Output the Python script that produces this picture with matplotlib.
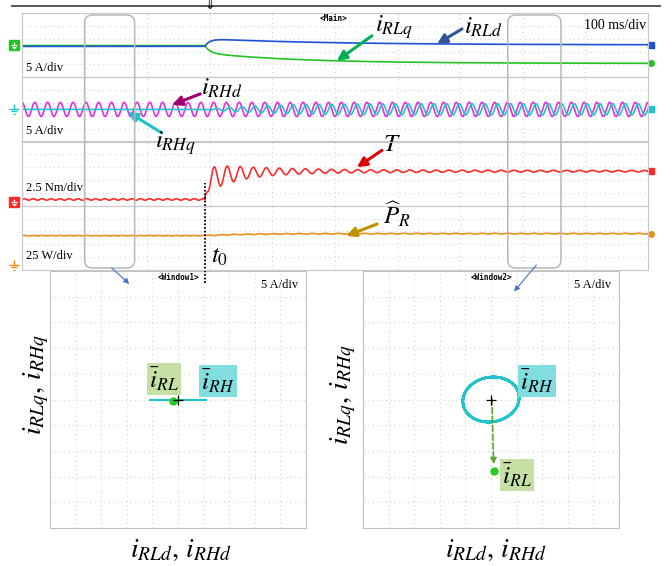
import numpy as np
import matplotlib
matplotlib.use('Agg')
import matplotlib.pyplot as plt
from matplotlib.patches import FancyBboxPatch, ConnectionPatch
from matplotlib.lines import Line2D
from matplotlib.path import Path
from matplotlib.transforms import IdentityTransform

plt.rcParams['mathtext.fontset'] = 'stix'
plt.rcParams['font.family'] = ['Liberation Serif', 'DejaVu Serif']

# scope settings
t_span = 1000.0          # ms (10 div x 100 ms/div)
t0 = 292.0               # ms, load step
t_trig = 300.0
win1 = (100.0, 180.0)    # zoom windows (ms)
win2 = (776.0, 861.0)

ch_scale = [5.0, 5.0, 2.5, 25.0]         # units/div
ch_ground = [0.0, 0.0, -4.42, -4.22]     # ground level, div from strip centre
ch_labels = ['5 A/div', '5 A/div', '2.5 Nm/div', '25 W/div']
ch_label_y = [0.14, 0.16, 0.28, 0.22]

# low-frequency rotor current (A)
irld_before, irld_peak, irld_final = -1.0, 5.0, 0.2
irlq_before, irlq_step, irlq_final = -0.3, -6.1, -14.2
irl_tau_fast, irld_tau_slow, irlq_tau_slow = 8.0, 200.0, 150.0

# high-frequency rotor current (A)
f_rh = 0.049             # cycles/ms
irhd_amp = 5.5
irhq_amp = 4.4
irhq_phase = 5.0         # deg
irhq_tau = 90.0

# torque (Nm)
T_before, T_final = 1.0, 12.0
T_dip, T_dip_tau = 3.5, 40.0
T_osc, T_osc_tau = 4.5, 60.0
T_osc_slow, T_osc_slow_tau = 0.8, 250.0
T_ripple, T_ripple_before = 0.25, 0.3
T_rise, T_peak_time = 4.0, 15.0
f_T, f_T_before = 0.048, 0.07

# estimated power (W)
P_before, P_final = 114.0, 122.0
P_tau, P_ripple = 60.0, 1.5

# ---------------- signals ----------------
t = np.arange(0, t_span + 0.05, 0.1)
dt = np.clip(t - t0, 0, None)
after = t >= t0

rise_f = 1 - np.exp(-dt / irl_tau_fast)
irld = irld_before + (irld_final - irld_before
                      + (irld_peak - irld_final) * np.exp(-dt / irld_tau_slow)) * rise_f
irlq = irlq_before + (irlq_step - irlq_before) * rise_f \
    + (irlq_final - irlq_step) * (1 - np.exp(-dt / irlq_tau_slow))

w = 2 * np.pi * f_rh
irhd = irhd_amp * np.cos(w * t)
irhq = irhq_amp * (1 - np.exp(-dt / irhq_tau)) * np.sin(w * t + np.radians(irhq_phase))

rise = 1 - np.exp(-dt / T_rise)
env = T_osc * np.exp(-dt / T_osc_tau) + T_osc_slow * np.exp(-dt / T_osc_slow_tau) + T_ripple
T_after = T_before + (T_final - T_before - T_dip * np.exp(-dt / T_dip_tau)) * rise \
    + env * np.cos(2 * np.pi * f_T * (dt - T_peak_time)) * rise ** 2
T_pre = T_before + T_ripple_before * np.sin(2 * np.pi * f_T_before * t)
torque = np.where(after, T_after, T_pre)

P_after = P_before + (P_final - P_before) * (1 - np.exp(-dt / P_tau)) \
    + P_ripple * np.sin(2 * np.pi * f_T * dt)
P_pre = P_before + 0.7 * P_ripple * np.sin(2 * np.pi * f_T_before * t)
power = np.where(after, P_after, P_pre)

# ---------------- layout ----------------
W, H = 672, 566
fig = plt.figure(figsize=(W / 100, H / 100), dpi=100)
fig.patch.set_facecolor('white')

grid_col = '#d2d2d2'
dot = (0, (1, 3))
sx0, sx1, sy0, sy1 = 22, 648, 13, 270
sh = (sy1 - sy0) / 4

axes = []
for i in range(4):
    top = sy0 + i * sh
    ax = fig.add_axes([sx0 / W, 1 - (top + sh) / H, (sx1 - sx0) / W, sh / H])
    ax.patch.set_visible(False)
    s, g = ch_scale[i], ch_ground[i]
    lo, hi = (-5 - g) * s, (5 - g) * s
    ax.set_xlim(0, t_span)
    ax.set_ylim(lo, hi)
    ax.set_xticks(np.arange(0, t_span + 1, 100))
    ax.set_yticks(np.linspace(lo, hi, 6)[1:-1])
    ax.grid(True, color=grid_col, ls=dot, lw=0.8)
    ax.tick_params(length=0, labelbottom=False, labelleft=False)
    for sp in ax.spines.values():
        sp.set_color('#c8c8c8')
    ax.text(0.007, ch_label_y[i], ch_labels[i], transform=ax.transAxes,
            fontsize=9, va='center', ha='left')
    axes.append(ax)
ax1, ax2, ax3, ax4 = axes
for z, ax in enumerate(axes):
    ax.set_zorder(10 - z)

c_rld, c_rlq = '#2050d8', '#22c322'
c_rhd, c_rhq = '#e030e0', '#20c4cc'
c_T, c_P = '#ff2a2a', '#e8901a'

ax1.plot(t, irlq, color=c_rlq, lw=1.2)
ax1.plot(t, irld, color=c_rld, lw=1.2)
ax2.plot(t, irhd, color=c_rhd, lw=1.2)
ax2.plot(t, irhq, color=c_rhq, lw=1.2)
ax3.plot(t, torque, color=c_T, lw=1.2)
ax4.plot(t, power, color=c_P, lw=1.2)

# ground markers (left) and trace-end markers (right)
gnd = Path([(0, 0.6), (0, 0), (-0.6, 0), (0.6, 0), (-0.38, -0.3), (0.38, -0.3),
            (-0.15, -0.6), (0.15, -0.6)],
           [Path.MOVETO, Path.LINETO, Path.MOVETO, Path.LINETO, Path.MOVETO,
            Path.LINETO, Path.MOVETO, Path.LINETO])
for ax, col, boxed in [(ax1, c_rlq, True), (ax2, c_rhq, False),
                       (ax3, c_T, True), (ax4, c_P, False)]:
    tr = ax.get_yaxis_transform()
    if boxed:
        ax.plot(-0.013, 0, marker='s', ms=7, color=col, transform=tr, clip_on=False)
        ax.plot(-0.013, 0, marker=gnd, ms=5, mec='white', mfc='none', mew=0.9,
                transform=tr, clip_on=False)
    else:
        ax.plot(-0.013, 0, marker=gnd, ms=7, mec=col, mfc='none', mew=1.0,
                transform=tr, clip_on=False)
for ax, y, col, mk in [(ax1, irld, c_rld, 's'), (ax1, irlq, c_rlq, 'o'),
                       (ax2, irhq, c_rhq, 's'), (ax3, torque, c_T, 's'),
                       (ax4, power, c_P, 'o')]:
    ax.plot(1.004, y[-1], marker=mk, ms=4, color=col,
            transform=ax.get_yaxis_transform(), clip_on=False)

ax1.text(0.497, 0.92, '<Main>', transform=ax1.transAxes, ha='center', va='center',
         fontsize=5.5, family='DejaVu Sans Mono', weight='bold')
ax1.text(0.997, 0.81, '100 ms/div', transform=ax1.transAxes, ha='right', va='center',
         fontsize=10)
ax1.text(t_trig, 1.12, '\u21d3', transform=ax1.get_xaxis_transform(), ha='center',
         va='center', fontsize=9, family='DejaVu Sans')
fig.add_artist(Line2D([12 / W, 660 / W], [1 - 6 / H] * 2, color='#555555', lw=1.4))

# t0 marker line
ax3.axvline(t0, ymin=0, ymax=0.35, color='k', ls=(0, (1, 1)), lw=1.3)
ax4.axvline(t0, ymin=-0.2, ymax=1.0, color='k', ls=(0, (1, 1)), lw=1.3, clip_on=False)


def idx(tt):
    return int(np.searchsorted(t, tt))


def label_arrow(ax, xy, tail, text_off, text, color):
    ax.annotate('', xy=xy, xytext=tail, textcoords='offset pixels',
                arrowprops=dict(arrowstyle='-|>', color=color, lw=2.2,
                                mutation_scale=14, shrinkA=0, shrinkB=0))
    ax.annotate(text, xy=xy, xytext=text_off, textcoords='offset pixels',
                ha='center', va='center', fontsize=18, annotation_clip=False)


k = idx(503)
label_arrow(ax1, (t[k], irlq[k]), (35, 25), (57, 34), r'$i_{RLq}$', '#00b050')
k = idx(663)
label_arrow(ax1, (t[k], irld[k]), (25, 15), (46, 17), r'$i_{RLd}$', '#2f5597')
label_arrow(ax2, (240, 3.5), (28, 11), (50, 17), r'$i_{RHd}$', '#a0006e')
label_arrow(ax2, (169, -2.0), (34, -21), (48, -31), r'$i_{RHq}$', '#20c0c8')
label_arrow(ax3, (535, 13.5), (25, 17), (35, 22), r'$T$', '#e00000')
label_arrow(ax4, (518, 113), (31, 12), (51, 22), r'$\widehat{P}_R$', '#bf9000')
ax4.annotate(r'$t_{\mathit{0}}$', xy=(t0, 0), xytext=(15, 8), textcoords='offset pixels',
             ha='center', va='center', fontsize=18)

# zoom window frames
y_top, y_bot = H - 15, H - 268
win_px = []
for a, b in (win1, win2):
    xa = ax1.transData.transform((a, 0))[0]
    xb = ax1.transData.transform((b, 0))[0]
    win_px.append((xa + xb) / 2)
    fig.add_artist(FancyBboxPatch((xa, y_bot), xb - xa, y_top - y_bot,
                                  boxstyle='round,pad=0,rounding_size=8',
                                  transform=IdentityTransform(), fill=False,
                                  ec='#b8b8b8', lw=1.1, zorder=20))

# XY panels
axL = fig.add_axes([50 / W, 1 - 528 / H, 256 / W, 257 / H])
axR = fig.add_axes([363 / W, 1 - 528 / H, 256 / W, 257 / H])
for ax, name in ((axL, '<Window1>'), (axR, '<Window2>')):
    ax.set_xlim(-25, 25)
    ax.set_ylim(-25, 25)
    ax.set_xticks(np.arange(-20, 21, 5))
    ax.set_yticks(np.arange(-20, 21, 5))
    ax.grid(True, color=grid_col, ls=dot, lw=0.8)
    ax.tick_params(length=0, labelbottom=False, labelleft=False)
    for sp in ax.spines.values():
        sp.set_color('#c0c0c0')
    ax.text(0.5, 0.973, name, transform=ax.transAxes, ha='center', va='center',
            fontsize=5.5, family='DejaVu Sans Mono', weight='bold')
    ax.text(0.97, 0.945, '5 A/div', transform=ax.transAxes, ha='right', va='center',
            fontsize=9)
    ax.plot(0, 0, marker='+', color='k', ms=7, mew=0.9, zorder=5)

m1 = (t >= win1[0]) & (t <= win1[1])
m2 = (t >= win2[0]) & (t <= win2[1])
axL.plot(irhd[m1], irhq[m1], color=c_rhq, lw=1.5)
axL.plot(irld[m1].mean(), irlq[m1].mean(), marker='o', ms=5, color='#22cc22')
axR.plot(irhd[m2], irhq[m2], color=c_rhq, lw=1.8)
rl2 = (irld[m2].mean(), irlq[m2].mean())
axR.plot(*rl2, marker='o', ms=5, color='#22cc22')
axR.annotate('', xy=rl2, xytext=(irhd[m2].mean(), irhq[m2].mean()),
             arrowprops=dict(arrowstyle='-|>', color='#5aa832', lw=1.2, ls='--',
                             mutation_scale=9, shrinkA=0, shrinkB=5))

box_rl = dict(boxstyle='square,pad=0.08', fc='#c5e0a5', ec='none')
box_rh = dict(boxstyle='square,pad=0.08', fc='#80dede', ec='none')
axL.text(-2.7, 4.0, r'$\bar{i}_{RL}$', bbox=box_rl, ha='center', va='center', fontsize=18)
axL.text(7.8, 3.6, r'$\bar{i}_{RH}$', bbox=box_rh, ha='center', va='center', fontsize=18)
axR.text(9.0, 3.6, r'$\bar{i}_{RH}$', bbox=box_rh, ha='center', va='center', fontsize=18)
axR.text(5.1, -14.7, r'$\bar{i}_{RL}$', bbox=box_rl, ha='center', va='center', fontsize=18)

axL.text(0.51, -0.086, r'$i_{RLd},\, i_{RHd}$', transform=axL.transAxes,
         ha='center', va='center', fontsize=20)
axR.text(0.52, -0.086, r'$i_{RLd},\, i_{RHd}$', transform=axR.transAxes,
         ha='center', va='center', fontsize=20)
axL.text(-0.055, 0.556, r'$i_{RLq},\, i_{RHq}$', transform=axL.transAxes,
         ha='center', va='center', fontsize=20, rotation=90)
axR.text(-0.078, 0.52, r'$i_{RLq},\, i_{RHq}$', transform=axR.transAxes,
         ha='center', va='center', fontsize=20, rotation=90)

# connectors from zoom windows to XY panels
for cx, dy0, ax, end in ((win_px[0], 298, axL, (0.31, 0.95)),
                         (win_px[1], 301, axR, (0.59, 0.92))):
    fig.add_artist(ConnectionPatch(xyA=(cx + 2, dy0), coordsA=IdentityTransform(),
                                   xyB=end, coordsB=ax.transAxes,
                                   arrowstyle='-|>', color='#4472c4', lw=0.8,
                                   mutation_scale=8, zorder=20))

fig.savefig('out.png', dpi=100)
